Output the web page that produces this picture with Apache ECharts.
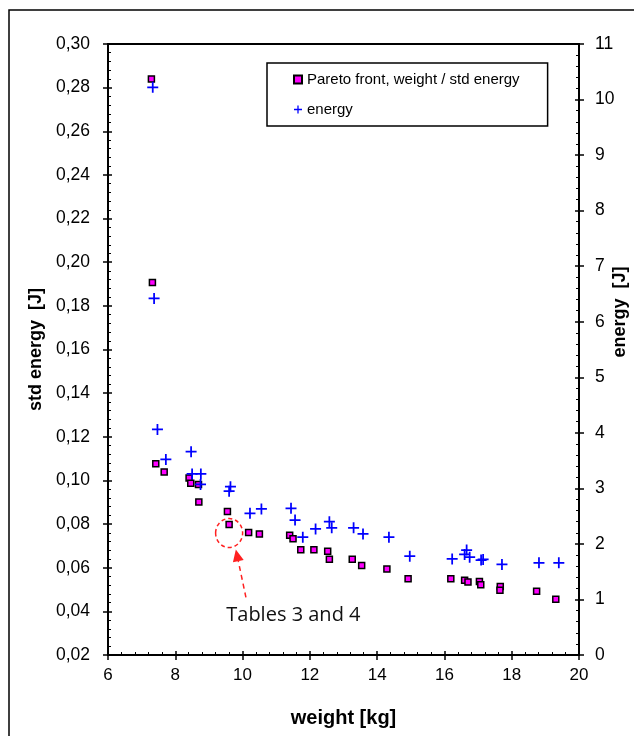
<!DOCTYPE html>
<html>
<head>
<meta charset="utf-8">
<script src="https://cdn.jsdelivr.net/npm/echarts@6/dist/echarts.min.js"></script>
<style>
  html, body { margin: 0; padding: 0; background: #fff; }
  #chart { width: 634px; height: 736px; }
</style>
</head>
<body>
<div id="chart"></div>
<script>
// Pareto front: weight [kg] / std energy [J]
var paretoWeight = [7.29, 7.32, 7.42, 7.67, 8.41, 8.46, 8.69, 8.70, 9.55, 9.60,
  10.18, 10.50, 11.40, 11.50, 11.73, 12.12, 12.53, 12.58, 13.26, 13.54,
  14.29, 14.92, 16.19, 16.60, 16.70, 17.04, 17.08, 17.66, 17.65, 18.74, 19.31];
var paretoStd = [0.284, 0.1907, 0.1077, 0.1039, 0.1011, 0.0987, 0.0981, 0.0901, 0.0858, 0.0798,
  0.0761, 0.0755, 0.0749, 0.0733, 0.0682, 0.0682, 0.0675, 0.0639, 0.0639, 0.0610,
  0.0594, 0.0550, 0.0550, 0.0543, 0.0535, 0.0537, 0.0522, 0.0514, 0.0497, 0.0492, 0.0455];

// energy [J] (right axis)
var energyWeight = [7.33, 7.37, 7.47, 7.72, 8.47, 8.50, 8.76, 8.75, 9.64, 9.60,
  10.22, 10.56, 11.44, 11.56, 11.79, 12.17, 12.58, 12.65, 13.30, 13.58,
  14.35, 14.97, 16.23, 16.66, 16.60, 16.75, 17.09, 17.15, 17.71, 18.81, 19.40];
var energyValues = [10.22, 6.42, 4.06, 3.52, 3.66, 3.26, 3.26, 3.07, 3.03, 2.95,
  2.55, 2.63, 2.64, 2.43, 2.12, 2.27, 2.40, 2.29, 2.29, 2.18,
  2.12, 1.78, 1.73, 1.89, 1.81, 1.76, 1.71, 1.72, 1.63, 1.66, 1.66];

var seriesNames = ['Pareto front, weight / std energy', 'energy'];
var noteText = 'Tables 3 and 4';

function pairs(xs, ys) {
  var out = [];
  for (var i = 0; i < xs.length; i++) out.push([xs[i], ys[i]]);
  return out;
}

var plusPath = 'path://M4.2,0h1.6v4.2h4.2v1.6h-4.2v4.2h-1.6v-4.2h-4.2v-1.6h4.2z';
var font = 'Liberation Sans';

var chart = echarts.init(document.getElementById('chart'));

var axisLine = { show: true, onZero: false, lineStyle: { color: '#000', width: 2 } };

chart.setOption({
  backgroundColor: '#fff',
  animation: false,
  textStyle: { fontFamily: font, color: '#000' },
  grid: {
    left: 108, right: 55, top: 44, bottom: 81,
    show: true, borderColor: '#000', borderWidth: 2, backgroundColor: '#fff'
  },
  legend: {
    data: seriesNames,
    orient: 'vertical',
    left: 267, top: 63,
    padding: [9, 28, 9, 26],
    itemGap: 15,
    itemWidth: 8, itemHeight: 8,
    borderColor: '#000', borderWidth: 1.5,
    backgroundColor: '#fff',
    textStyle: { fontFamily: font, fontSize: 15, color: '#000' }
  },
  xAxis: [
    {
      type: 'value', min: 6, max: 20, interval: 2, position: 'bottom',
      axisLine: axisLine,
      axisTick: { show: true, inside: false, length: 5, lineStyle: { color: '#000', width: 1.5 } },
      axisLabel: { fontSize: 17, color: '#000', margin: 12, fontFamily: font },
      splitLine: { show: false },
      name: 'weight [kg]', nameLocation: 'middle', nameGap: 53,
      nameTextStyle: { fontSize: 20, fontWeight: 'bold', color: '#000', fontFamily: font }
    },
    {
      type: 'value', min: 6, max: 20, interval: 2, position: 'bottom',
      axisLine: axisLine,
      axisTick: { show: true, inside: true, length: 4, lineStyle: { color: '#000', width: 1.5 } },
      minorTick: { show: true, splitNumber: 5, length: 3, lineStyle: { color: '#000', width: 1 } },
      axisLabel: { show: false },
      splitLine: { show: false }
    }
  ],
  yAxis: [
    {
      type: 'value', min: 0.02, max: 0.30, interval: 0.02, position: 'left',
      axisLine: axisLine,
      axisTick: { show: true, inside: false, length: 5, lineStyle: { color: '#000', width: 1.5 } },
      axisLabel: {
        fontSize: 17.5, color: '#000', margin: 18, fontFamily: font,
        formatter: function (v) { return v.toFixed(2).replace('.', ','); }
      },
      splitLine: { show: false },
      name: 'std energy  [J]', nameLocation: 'middle', nameGap: 59,
      nameTextStyle: { fontSize: 18, fontWeight: 'bold', color: '#000', fontFamily: font }
    },
    {
      type: 'value', min: 0, max: 11, interval: 1, position: 'right',
      axisLine: axisLine,
      axisTick: { show: true, inside: false, length: 5, lineStyle: { color: '#000', width: 1.5 } },
      axisLabel: { fontSize: 17.5, color: '#000', margin: 16, fontFamily: font },
      splitLine: { show: false }
    },
    {
      type: 'value', min: 0.02, max: 0.30, interval: 0.02, position: 'left',
      axisLine: axisLine,
      axisTick: { show: true, inside: true, length: 4, lineStyle: { color: '#000', width: 1.5 } },
      minorTick: { show: true, splitNumber: 5, length: 3, lineStyle: { color: '#000', width: 1 } },
      axisLabel: { show: false },
      splitLine: { show: false }
    },
    {
      type: 'value', min: 0, max: 11, interval: 1, position: 'right',
      axisLine: axisLine,
      axisTick: { show: true, inside: true, length: 4, lineStyle: { color: '#000', width: 1.5 } },
      minorTick: { show: true, splitNumber: 5, length: 3, lineStyle: { color: '#000', width: 1 } },
      axisLabel: { show: false },
      splitLine: { show: false }
    }
  ],
  series: [
    {
      name: seriesNames[0],
      type: 'scatter',
      xAxisIndex: 0, yAxisIndex: 0,
      symbol: 'rect', symbolSize: 6,
      itemStyle: { color: '#ff00ff', borderColor: '#000', borderWidth: 1.5, opacity: 1 },
      data: pairs(paretoWeight, paretoStd)
    },
    {
      name: seriesNames[1],
      type: 'scatter',
      xAxisIndex: 0, yAxisIndex: 1,
      symbol: plusPath, symbolSize: 11,
      itemStyle: { color: '#0000ff', opacity: 1 },
      data: pairs(energyWeight, energyValues)
    }
  ]
});

// annotation anchored in data units (weight, std energy)
var circleAt = [9.6, 0.0759];
var arrowFrom = [10.10, 0.0464];
var arrowTo = [9.80, 0.0684];
var textAt = [9.515, 0.0382];

var toPx = function (p) { return chart.convertToPixel({ seriesIndex: 0 }, p); };
var c = toPx(circleAt), a0 = toPx(arrowFrom), a1 = toPx(arrowTo), t = toPx(textAt);
var dx = a1[0] - a0[0], dy = a1[1] - a0[1];
var len = Math.sqrt(dx * dx + dy * dy);
var ux = dx / len, uy = dy / len, px = -uy, py = ux;
var headLen = 12, headW = 5.5;
var bx = a1[0] - ux * headLen, by = a1[1] - uy * headLen;

chart.setOption({
  graphic: [
    {
      type: 'rect', z: -10, silent: true,
      shape: { x: 9, y: 10, width: 700, height: 800 },
      style: { fill: 'none', stroke: '#000', lineWidth: 1.5 }
    },
    {
      type: 'ellipse', z: 100,
      shape: { cx: c[0], cy: c[1], rx: 13.5, ry: 14.5 },
      style: { fill: 'none', stroke: '#ff2020', lineWidth: 1.5, lineDash: [4, 3] }
    },
    {
      type: 'line', z: 100,
      shape: { x1: a0[0], y1: a0[1], x2: bx, y2: by },
      style: { stroke: '#ff2020', lineWidth: 1.5, lineDash: [5, 4] }
    },
    {
      type: 'polygon', z: 100,
      shape: { points: [[a1[0], a1[1]], [bx + px * headW, by + py * headW], [bx - px * headW, by - py * headW]] },
      style: { fill: '#ff2020' }
    },
    {
      type: 'text', z: 100,
      x: t[0], y: t[1],
      style: { text: noteText, fill: '#111', font: '20px "Open Sans"', textAlign: 'left', textVerticalAlign: 'middle' }
    },
    {
      type: 'text', z: 100,
      x: 620, y: 312, rotation: Math.PI / 2,
      style: { text: 'energy  [J]', fill: '#000', font: 'bold 18px "Liberation Sans"', textAlign: 'center', textVerticalAlign: 'middle' }
    }
  ]
});
</script>
</body>
</html>
